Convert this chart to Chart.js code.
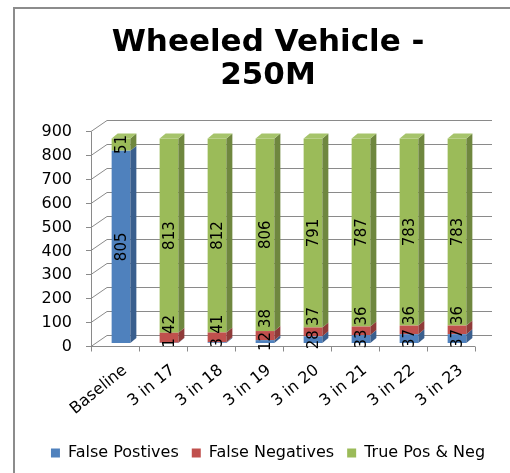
<!DOCTYPE html>
<html>
<head>
<meta charset="utf-8">
<script src="https://cdn.jsdelivr.net/npm/chart.js@4/dist/chart.umd.min.js"></script>
<style>
    body { margin: 0; background: #fff; overflow: hidden; }
    #frame { position: absolute; left: 13px; top: 7px; width: 700px; height: 700px; border: 2px solid #8c8c8c; }
    #wrap { position: absolute; left: 0; top: 0; width: 510px; height: 473px; }
</style>
</head>
<body>
<div id="frame"></div>
<div id="wrap"><canvas id="bar-chart"></canvas></div>
<script>
const categories = ['Baseline', '3 in 17', '3 in 18', '3 in 19', '3 in 20', '3 in 21', '3 in 22', '3 in 23'];
const falsePositives = [805, 1, 3, 12, 28, 33, 37, 37];
const falseNegatives = [0, 42, 41, 38, 37, 36, 36, 36];
const truePosNeg = [51, 813, 812, 806, 791, 787, 783, 783];

const colors = ['#4f81bd', '#c0504d', '#9bbb59'];
const sideColors = ['#3a5f8e', '#8f3b39', '#6f873f'];
const topColor = '#a6c46b';
const gridColor = '#8a8a8a';

// depth of the bars and of the back wall
const BAR_DX = 6, BAR_DY = 5;
const WALL_DX = 16, WALL_DY = 11;

Chart.defaults.font.family = 'DejaVu Sans';
Chart.defaults.color = '#000';

// back wall gridlines + front axes
const wallPlugin = {
    id: 'wall',
    beforeDatasetsDraw(chart) {
        const ctx = chart.ctx;
        const area = chart.chartArea;
        const ys = chart.scales.y;
        const cat = (area.right - area.left) / categories.length;
        const fx = area.left - 6;
        ctx.save();
        ctx.strokeStyle = gridColor;
        ctx.lineWidth = 1;
        ys.ticks.forEach(t => {
            const y = Math.round(ys.getPixelForValue(t.value)) + 3.5;
            ctx.beginPath();
            ctx.moveTo(fx - 5, y);
            ctx.lineTo(fx, y);
            ctx.lineTo(fx + WALL_DX, y - WALL_DY);
            ctx.lineTo(area.right + 11, y - WALL_DY);
            ctx.stroke();
        });
        const yTop = Math.round(ys.getPixelForValue(900)) + 3.5;
        const yBot = Math.round(ys.getPixelForValue(0)) + 3.5;
        ctx.beginPath();
        ctx.moveTo(Math.round(fx) + 0.5, yTop);
        ctx.lineTo(Math.round(fx) + 0.5, yBot);
        ctx.moveTo(fx, yBot);
        ctx.lineTo(fx + cat * categories.length, yBot);
        for (let i = 0; i <= categories.length; i++) {
            const x = Math.round(fx + cat * i) + 0.5;
            ctx.moveTo(x, yBot);
            ctx.lineTo(x, yBot + 5);
        }
        ctx.stroke();
        ctx.restore();
    }
};

// side and top faces of the columns
const depthPlugin = {
    id: 'depth',
    afterDatasetsDraw(chart) {
        const ctx = chart.ctx;
        const last = chart.data.datasets.length - 1;
        ctx.save();
        chart.data.datasets.forEach((ds, di) => {
            chart.getDatasetMeta(di).data.forEach((bar, i) => {
                if (!ds.data[i]) return;
                const p = bar.getProps(['x', 'y', 'base', 'width'], true);
                const l = p.x - p.width / 2;
                const r = p.x + p.width / 2;
                ctx.fillStyle = sideColors[di];
                ctx.beginPath();
                ctx.moveTo(r, p.y);
                ctx.lineTo(r + BAR_DX, p.y - BAR_DY);
                ctx.lineTo(r + BAR_DX, p.base - BAR_DY);
                ctx.lineTo(r, p.base);
                ctx.closePath();
                ctx.fill();
                if (di === last) {
                    ctx.fillStyle = topColor;
                    ctx.beginPath();
                    ctx.moveTo(l, p.y);
                    ctx.lineTo(l + BAR_DX, p.y - BAR_DY);
                    ctx.lineTo(r + BAR_DX, p.y - BAR_DY);
                    ctx.lineTo(r, p.y);
                    ctx.closePath();
                    ctx.fill();
                }
            });
        });
        ctx.restore();
    }
};

// rotated value labels, pushed up so they do not overlap
const valuePlugin = {
    id: 'values',
    afterDraw(chart) {
        const ctx = chart.ctx;
        ctx.save();
        ctx.font = '15px "DejaVu Sans"';
        ctx.fillStyle = '#000';
        ctx.textAlign = 'center';
        ctx.textBaseline = 'middle';
        categories.forEach((c, i) => {
            let limit = Infinity;
            chart.data.datasets.forEach((ds, di) => {
                const v = ds.data[i];
                if (!v) return;
                const bar = chart.getDatasetMeta(di).data[i];
                const txt = String(v);
                const half = ctx.measureText(txt).width / 2;
                let cy = (bar.y + bar.base) / 2;
                cy = Math.min(cy, limit - 4 - half);
                limit = cy - half;
                ctx.save();
                ctx.translate(bar.x + 1, cy);
                ctx.rotate(-Math.PI / 2);
                ctx.fillText(txt, 0, 0);
                ctx.restore();
            });
        });
        ctx.restore();
    }
};

const chart = new Chart(document.getElementById('bar-chart'), {
    type: 'bar',
    data: {
        labels: categories,
        datasets: [
            { label: 'False Postives', data: falsePositives, backgroundColor: colors[0], borderWidth: 0 },
            { label: 'False Negatives', data: falseNegatives, backgroundColor: colors[1], borderWidth: 0 },
            { label: 'True Pos & Neg', data: truePosNeg, backgroundColor: colors[2], borderWidth: 0 }
        ]
    },
    options: {
        responsive: true,
        maintainAspectRatio: false,
        animation: false,
        datasets: { bar: { categoryPercentage: 1, barPercentage: 0.39 } },
        layout: { padding: { top: 8, left: 26, right: 0, bottom: 2 } },
        plugins: {
            title: {
                display: true,
                text: ['Wheeled Vehicle -', '250M'],
                color: '#000',
                font: { size: 31, weight: 'bold', lineHeight: 1.08 },
                padding: { top: 18, bottom: 35 }
            },
            legend: {
                position: 'bottom',
                align: 'center',
                labels: { boxWidth: 9, boxHeight: 9, padding: 13, color: '#000', font: { size: 16 } }
            },
            tooltip: { enabled: false }
        },
        scales: {
            x: {
                stacked: true,
                grid: { display: false, drawTicks: false },
                border: { display: false },
                ticks: { font: { size: 16 }, color: '#000', minRotation: 39, maxRotation: 39, padding: 18, labelOffset: 4 },
                afterFit(s) { s.height = 89; }
            },
            y: {
                stacked: true,
                min: 0,
                max: 900,
                grid: { display: false, drawTicks: false },
                border: { display: false },
                ticks: { stepSize: 100, font: { size: 16 }, color: '#000', padding: 25, labelOffset: 4 },
                afterFit(s) { s.width = 71; }
            },
            yR: {
                position: 'right',
                grid: { display: false, drawTicks: false },
                border: { display: false },
                ticks: { display: false },
                afterFit(s) { s.width = 29; }
            }
        }
    },
    plugins: [wallPlugin, depthPlugin, valuePlugin]
});
</script>
</body>
</html>
